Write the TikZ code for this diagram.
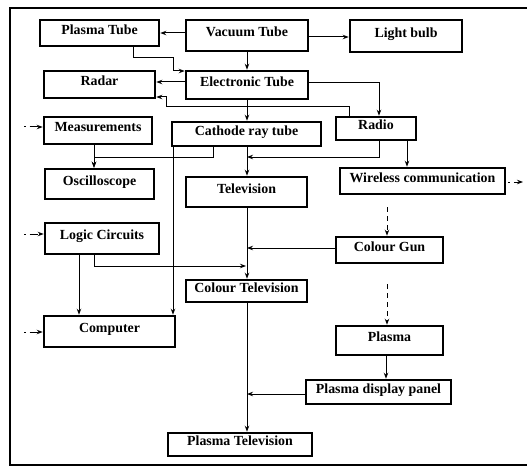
\documentclass[tikz,border=0pt]{standalone}
\usepackage{fontspec}
\setmainfont{Liberation Serif}
\usetikzlibrary{arrows.meta}
\tikzset{
  box/.style={draw, line width=2.6pt, inner sep=0pt, text height=0.75em, text depth=0.5em,
    font=\fontsize{13.9}{16}\selectfont\bfseries},
  arr/.style={line width=1pt, -{Stealth[length=6pt,width=4.5pt]}},
  darr/.style={arr, dash pattern=on 5pt off 4pt},
  sarr/.style={arr, dash pattern=on 1.5pt off 4pt on 8pt},
  frame/.style={line width=2.8pt}
}
\newcommand{\bx}[6]{\node[box, minimum width=#4pt, minimum height=#5pt] (#1) at (#2,#3) {#6};}
\begin{document}
\begin{tikzpicture}[x=1pt,y=-1pt]
\useasboundingbox (0,0) rectangle (527,468);
\draw[frame] (527,8) -- (10,8) -- (10,465) -- (527,465);
% boxes
\bx{plasmatube}{99.5}{33}{119}{26}{Plasma Tube}
\bx{vacuum}{247}{35.5}{122}{31}{Vacuum Tube}
\bx{light}{406}{36}{112}{32}{Light bulb}
\bx{radar}{99.5}{84.5}{111}{27}{Radar}
\bx{electronic}{247}{85}{122}{28}{Electronic Tube}
\bx{measure}{98}{130.5}{108}{27}{Measurements}
\bx{crt}{246.5}{134}{149}{24}{Cathode ray tube}
\bx{radio}{376}{128.5}{80}{23}{Radio}
\bx{osc}{99.5}{184}{109}{30}{Oscilloscope}
\bx{tv}{246.5}{192}{121}{30}{Television}
\bx{wireless}{422.5}{181}{165}{26}{Wireless communication}
\bx{colourgun}{389.5}{250}{107}{26}{Colour Gun}
\bx{logic}{102}{238.5}{114}{31}{Logic Circuits}
\bx{ctv}{246.5}{291}{121}{22}{Colour Television}
\bx{computer}{109.5}{331.5}{131}{31}{Computer}
\bx{plasma}{389.5}{340.5}{107}{29}{Plasma}
\bx{pdp}{378.5}{392}{145}{24}{Plasma display panel}
\bx{ptv}{240}{444.5}{144}{23}{Plasma Television}
% junctions and free ends
\coordinate (j1) at (247,157);
\coordinate (j2) at (247,248);
\coordinate (j3) at (246,266);
\coordinate (j4) at (247,394);
\coordinate (outW) at (523,182);
\coordinate (inM) at (24,127);
\coordinate (inL) at (24,234);
\coordinate (inC) at (24,332);
% connectors
\draw[arr] (vacuum.west |- 0,33) -- (plasmatube.east |- 0,33);
\draw[arr] (vacuum.east |- 0,37) -- (light.west |- 0,37);
\draw[arr] (vacuum.south -| 247,0) -- (electronic.north -| 247,0);
\draw[arr] (plasmatube.south -| 133,0) |- (173,58) |- (electronic.west |- 0,71);
\draw[arr] (electronic.west |- 0,82) -- (radar.east |- 0,82);
\draw[arr] (radio.north -| 349,0) |- (166,107) |- (radar.east |- 0,97);
\draw[arr] (electronic.south -| 247,0) -- (crt.north -| 247,0);
\draw[arr] (electronic.east |- 0,83) -| (radio.north -| 379,0);
\draw[arr] (crt.south -| 213,0) |- (94,157) -- (osc.north -| 94,0);
\draw[arr] (measure.south -| 94,0) -- (osc.north -| 94,0);
\draw[arr] (crt.south -| 173,0) -- (computer.north -| 173,0);
\draw[arr] (crt.south -| 247,0) -- (tv.north -| 247,0);
\draw[arr] (radio.south -| 379,0) |- (j1);
\draw[arr] (radio.south -| 407,0) -- (wireless.north -| 407,0);
\draw[sarr, shorten <=2pt] (wireless.east |- 0,182) -- (outW);
\draw[sarr] (inM) -- (measure.west |- 0,127);
\draw[sarr] (inL) -- (logic.west |- 0,234);
\draw[sarr] (inC) -- (computer.west |- 0,332);
\draw[darr, shorten <=12pt] (wireless.south -| 387,0) -- (colourgun.north -| 387,0);
\draw[arr] (colourgun.west |- 0,248) -- (j2);
\draw[arr] (tv.south -| 247,0) -- (ctv.north -| 247,0);
\draw[arr] (logic.south -| 94,0) |- (j3);
\draw[arr] (logic.south -| 79,0) -- (computer.north -| 79,0);
\draw[darr, shorten <=20pt] (colourgun.south -| 387,0) -- (plasma.north -| 387,0);
\draw[arr] (ctv.south -| 247,0) -- (ptv.north -| 247,0);
\draw[arr] (plasma.south -| 386,0) -- (pdp.north -| 386,0);
\draw[arr] (pdp.west |- 0,394) -- (j4);
\end{tikzpicture}
\end{document}
